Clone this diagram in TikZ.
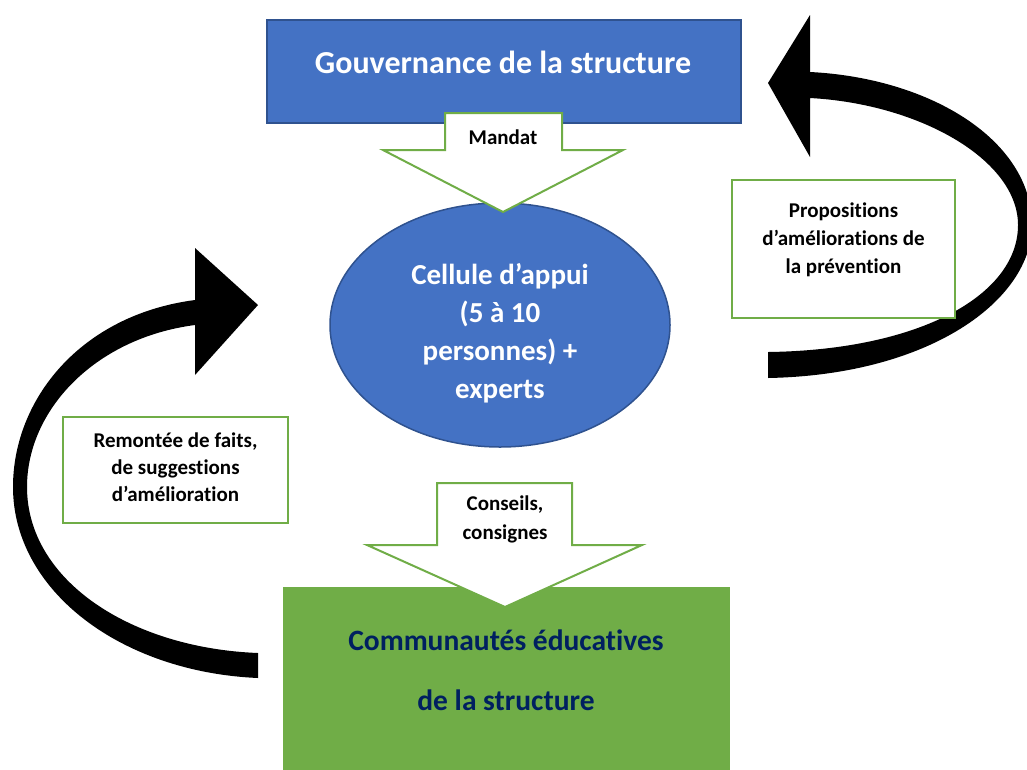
\documentclass[tikz,border=0pt]{standalone}
\usepackage{fontspec}
\setmainfont{Carlito}[Ligatures=NoCommon]
\usetikzlibrary{shapes.geometric}
\definecolor{oblue}{HTML}{4472C4}
\definecolor{oblueb}{HTML}{2F528F}
\definecolor{ogreen}{HTML}{70AD47}
\definecolor{onavy}{HTML}{002060}
\begin{document}
\begin{tikzpicture}[x=1pt,y=-1pt,
  blockarrow/.style={draw=ogreen, line width=2pt, fill=white, line join=miter},
  notebox/.style={draw=ogreen, line width=1.6pt, fill=white, inner sep=0pt},
  labeltxt/.style={align=center, font=\bfseries\fontsize{21}{28}\selectfont, inner sep=0pt},
  curvearrow/.style={fill=black}]
\useasboundingbox (0,0) rectangle (1027,769);
\clip (0,0) rectangle (1027,769);
% top governance box
\node[draw=oblueb, fill=oblue, line width=1.5pt, minimum width=474pt, minimum height=103pt, inner sep=0pt] (gov) at (504,71.5) {};
\node[text=white, font=\bfseries\fontsize{32}{38}\selectfont, inner sep=0pt] (govtxt) at (503,62) {Gouvernance de la structure};
% ellipse
\node[ellipse, draw=oblueb, fill=oblue, line width=1.5pt, minimum width=340pt, minimum height=244pt, inner sep=0pt] (cell) at (500,325) {};
\node[text=white, align=center, font=\bfseries\fontsize{29}{38}\selectfont, inner sep=0pt] (celltxt) at (500,333) {Cellule d’appui\\(5 à 10\\personnes) +\\experts};
% bottom green box
\node[fill=ogreen, minimum width=447pt, minimum height=200pt, inner sep=0pt, anchor=north west] (comm) at (283,587) {};
\node[text=onavy, align=center, font=\bfseries\fontsize{29.5}{60}\selectfont, inner sep=0pt] (commtxt) at (506,670) {Communautés éducatives\\de la structure};
% curved arrows
\fill[curvearrow] (258,678) .. controls (120,672) and (13,590) .. (13,487)
  .. controls (13,400) and (80,315) .. (195,300) -- (195,248) -- (258,305) -- (195,375) -- (195,325)
  .. controls (95,338) and (27,410) .. (27,487) .. controls (27,580) and (130,648) .. (258,653) -- cycle;
\fill[curvearrow] (768,378) .. controls (930,375) and (1032,300) .. (1032,225)
  .. controls (1032,140) and (930,78) .. (810,72) -- (810,15) -- (768,83) -- (810,157) -- (810,98)
  .. controls (920,104) and (1018,160) .. (1018,225) .. controls (1018,295) and (920,350) .. (768,352) -- cycle;
% side boxes
\node[notebox, minimum width=225pt, minimum height=106pt] (leftbox) at (175.5,470) {};
\node[labeltxt, font=\bfseries\fontsize{21}{27}\selectfont] (lefttxt) at (175.5,467) {Remontée de faits,\\de suggestions\\d’amélioration};
\node[notebox, minimum width=223pt, minimum height=138pt] (rightbox) at (843.5,249) {};
\node[labeltxt] (righttxt) at (843.5,240) {Propositions\\d’améliorations de\\la prévention};
% block arrows
\draw[blockarrow] (445,113) -- (562,113) -- (562,150) -- (623,150) -- (503,212) -- (383,150) -- (445,150) -- cycle;
\node[font=\bfseries\fontsize{21}{28}\selectfont, inner sep=0pt] (mandat) at (503,137) {Mandat};
\draw[blockarrow] (437,483) -- (572,483) -- (572,545) -- (642,545) -- (505,607) -- (367,545) -- (437,545) -- cycle;
\node[align=center, font=\bfseries\fontsize{21}{29}\selectfont, inner sep=0pt] (conseils) at (505,519) {Conseils,\\consignes};
\end{tikzpicture}
\end{document}
